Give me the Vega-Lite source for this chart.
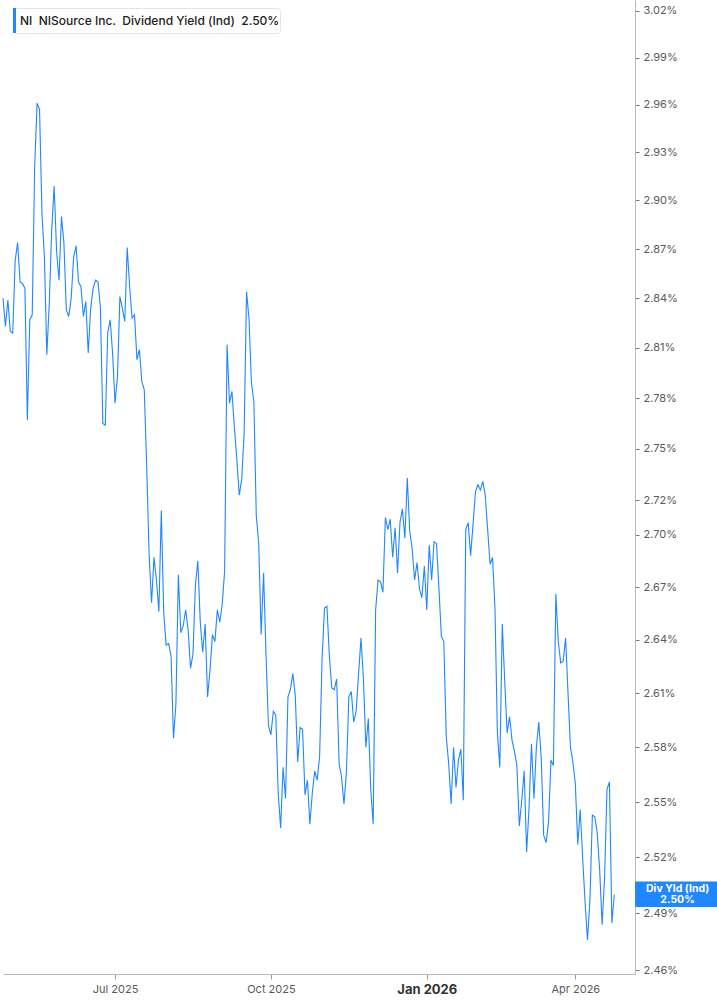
{
  "$schema": "https://vega.github.io/schema/vega-lite/v6.json",
  "width": 632,
  "height": 974,
  "padding": 0,
  "background": "white",
  "config": {
    "view": {"stroke": null},
    "font": "Inter",
    "axis": {"grid": false, "title": null}
  },
  "data": {
    "values": [
      {"date": "2025-04-24", "y": 2.840}, {"date": "2025-04-25", "y": 2.823}, {"date": "2025-04-28", "y": 2.839}, {"date": "2025-04-29", "y": 2.820}, {"date": "2025-04-30", "y": 2.819},
      {"date": "2025-05-01", "y": 2.863}, {"date": "2025-05-02", "y": 2.874}, {"date": "2025-05-05", "y": 2.850}, {"date": "2025-05-06", "y": 2.849}, {"date": "2025-05-07", "y": 2.846},
      {"date": "2025-05-08", "y": 2.767}, {"date": "2025-05-09", "y": 2.827}, {"date": "2025-05-12", "y": 2.830}, {"date": "2025-05-13", "y": 2.921}, {"date": "2025-05-14", "y": 2.961},
      {"date": "2025-05-15", "y": 2.957}, {"date": "2025-05-16", "y": 2.892}, {"date": "2025-05-19", "y": 2.865}, {"date": "2025-05-20", "y": 2.806}, {"date": "2025-05-21", "y": 2.837},
      {"date": "2025-05-22", "y": 2.882}, {"date": "2025-05-23", "y": 2.909}, {"date": "2025-05-27", "y": 2.869}, {"date": "2025-05-28", "y": 2.851}, {"date": "2025-05-29", "y": 2.890},
      {"date": "2025-05-30", "y": 2.874}, {"date": "2025-06-02", "y": 2.833}, {"date": "2025-06-03", "y": 2.829}, {"date": "2025-06-04", "y": 2.840}, {"date": "2025-06-05", "y": 2.865},
      {"date": "2025-06-06", "y": 2.872}, {"date": "2025-06-09", "y": 2.850}, {"date": "2025-06-10", "y": 2.847}, {"date": "2025-06-11", "y": 2.829}, {"date": "2025-06-12", "y": 2.838},
      {"date": "2025-06-13", "y": 2.807}, {"date": "2025-06-16", "y": 2.834}, {"date": "2025-06-17", "y": 2.846}, {"date": "2025-06-18", "y": 2.851}, {"date": "2025-06-20", "y": 2.850},
      {"date": "2025-06-23", "y": 2.834}, {"date": "2025-06-24", "y": 2.765}, {"date": "2025-06-25", "y": 2.764}, {"date": "2025-06-26", "y": 2.819}, {"date": "2025-06-27", "y": 2.827},
      {"date": "2025-06-30", "y": 2.807}, {"date": "2025-07-01", "y": 2.777}, {"date": "2025-07-02", "y": 2.793}, {"date": "2025-07-03", "y": 2.841}, {"date": "2025-07-07", "y": 2.834},
      {"date": "2025-07-08", "y": 2.826}, {"date": "2025-07-09", "y": 2.871}, {"date": "2025-07-10", "y": 2.847}, {"date": "2025-07-11", "y": 2.828}, {"date": "2025-07-14", "y": 2.830},
      {"date": "2025-07-15", "y": 2.803}, {"date": "2025-07-16", "y": 2.809}, {"date": "2025-07-17", "y": 2.790}, {"date": "2025-07-18", "y": 2.785}, {"date": "2025-07-21", "y": 2.740},
      {"date": "2025-07-22", "y": 2.688}, {"date": "2025-07-23", "y": 2.661}, {"date": "2025-07-24", "y": 2.687}, {"date": "2025-07-25", "y": 2.674}, {"date": "2025-07-28", "y": 2.656},
      {"date": "2025-07-29", "y": 2.714}, {"date": "2025-07-30", "y": 2.655}, {"date": "2025-07-31", "y": 2.637}, {"date": "2025-08-01", "y": 2.638}, {"date": "2025-08-04", "y": 2.631},
      {"date": "2025-08-05", "y": 2.585}, {"date": "2025-08-06", "y": 2.604}, {"date": "2025-08-07", "y": 2.677}, {"date": "2025-08-08", "y": 2.644}, {"date": "2025-08-11", "y": 2.648},
      {"date": "2025-08-12", "y": 2.657}, {"date": "2025-08-13", "y": 2.646}, {"date": "2025-08-14", "y": 2.624}, {"date": "2025-08-15", "y": 2.632}, {"date": "2025-08-18", "y": 2.671},
      {"date": "2025-08-19", "y": 2.685}, {"date": "2025-08-20", "y": 2.650}, {"date": "2025-08-21", "y": 2.633}, {"date": "2025-08-22", "y": 2.649}, {"date": "2025-08-25", "y": 2.608},
      {"date": "2025-08-26", "y": 2.623}, {"date": "2025-08-27", "y": 2.643}, {"date": "2025-08-28", "y": 2.639}, {"date": "2025-08-29", "y": 2.657}, {"date": "2025-09-02", "y": 2.650},
      {"date": "2025-09-03", "y": 2.660}, {"date": "2025-09-04", "y": 2.679}, {"date": "2025-09-05", "y": 2.812}, {"date": "2025-09-08", "y": 2.777}, {"date": "2025-09-09", "y": 2.784},
      {"date": "2025-09-10", "y": 2.763}, {"date": "2025-09-11", "y": 2.744}, {"date": "2025-09-12", "y": 2.723}, {"date": "2025-09-15", "y": 2.732}, {"date": "2025-09-16", "y": 2.759},
      {"date": "2025-09-17", "y": 2.844}, {"date": "2025-09-18", "y": 2.828}, {"date": "2025-09-19", "y": 2.789}, {"date": "2025-09-22", "y": 2.778}, {"date": "2025-09-23", "y": 2.711},
      {"date": "2025-09-24", "y": 2.695}, {"date": "2025-09-25", "y": 2.643}, {"date": "2025-09-26", "y": 2.678}, {"date": "2025-09-29", "y": 2.631}, {"date": "2025-09-30", "y": 2.592},
      {"date": "2025-10-01", "y": 2.587}, {"date": "2025-10-02", "y": 2.600}, {"date": "2025-10-03", "y": 2.598}, {"date": "2025-10-06", "y": 2.555}, {"date": "2025-10-07", "y": 2.536},
      {"date": "2025-10-08", "y": 2.569}, {"date": "2025-10-09", "y": 2.552}, {"date": "2025-10-10", "y": 2.608}, {"date": "2025-10-13", "y": 2.612}, {"date": "2025-10-14", "y": 2.621},
      {"date": "2025-10-15", "y": 2.609}, {"date": "2025-10-16", "y": 2.572}, {"date": "2025-10-17", "y": 2.591}, {"date": "2025-10-20", "y": 2.590}, {"date": "2025-10-21", "y": 2.554},
      {"date": "2025-10-22", "y": 2.562}, {"date": "2025-10-23", "y": 2.538}, {"date": "2025-10-24", "y": 2.555}, {"date": "2025-10-27", "y": 2.567}, {"date": "2025-10-28", "y": 2.562},
      {"date": "2025-10-29", "y": 2.575}, {"date": "2025-10-30", "y": 2.629}, {"date": "2025-10-31", "y": 2.658}, {"date": "2025-11-03", "y": 2.659}, {"date": "2025-11-04", "y": 2.631},
      {"date": "2025-11-05", "y": 2.613}, {"date": "2025-11-06", "y": 2.612}, {"date": "2025-11-07", "y": 2.618}, {"date": "2025-11-10", "y": 2.571}, {"date": "2025-11-11", "y": 2.564},
      {"date": "2025-11-12", "y": 2.549}, {"date": "2025-11-13", "y": 2.566}, {"date": "2025-11-14", "y": 2.608}, {"date": "2025-11-17", "y": 2.611}, {"date": "2025-11-18", "y": 2.594},
      {"date": "2025-11-19", "y": 2.600}, {"date": "2025-11-20", "y": 2.621}, {"date": "2025-11-21", "y": 2.641}, {"date": "2025-11-24", "y": 2.618}, {"date": "2025-11-25", "y": 2.580},
      {"date": "2025-11-26", "y": 2.596}, {"date": "2025-11-28", "y": 2.557}, {"date": "2025-12-01", "y": 2.538}, {"date": "2025-12-02", "y": 2.657}, {"date": "2025-12-03", "y": 2.674},
      {"date": "2025-12-04", "y": 2.673}, {"date": "2025-12-05", "y": 2.667}, {"date": "2025-12-08", "y": 2.710}, {"date": "2025-12-09", "y": 2.703}, {"date": "2025-12-10", "y": 2.709},
      {"date": "2025-12-11", "y": 2.687}, {"date": "2025-12-12", "y": 2.704}, {"date": "2025-12-15", "y": 2.678}, {"date": "2025-12-16", "y": 2.707}, {"date": "2025-12-17", "y": 2.715},
      {"date": "2025-12-18", "y": 2.698}, {"date": "2025-12-19", "y": 2.733}, {"date": "2025-12-22", "y": 2.702}, {"date": "2025-12-23", "y": 2.692}, {"date": "2025-12-24", "y": 2.674},
      {"date": "2025-12-26", "y": 2.684}, {"date": "2025-12-29", "y": 2.669}, {"date": "2025-12-30", "y": 2.664}, {"date": "2025-12-31", "y": 2.682}, {"date": "2026-01-02", "y": 2.657},
      {"date": "2026-01-05", "y": 2.694}, {"date": "2026-01-06", "y": 2.674}, {"date": "2026-01-07", "y": 2.696}, {"date": "2026-01-08", "y": 2.695}, {"date": "2026-01-09", "y": 2.669},
      {"date": "2026-01-12", "y": 2.642}, {"date": "2026-01-13", "y": 2.639}, {"date": "2026-01-14", "y": 2.586}, {"date": "2026-01-15", "y": 2.571}, {"date": "2026-01-16", "y": 2.549},
      {"date": "2026-01-20", "y": 2.580}, {"date": "2026-01-21", "y": 2.558}, {"date": "2026-01-22", "y": 2.573}, {"date": "2026-01-23", "y": 2.579}, {"date": "2026-01-26", "y": 2.551},
      {"date": "2026-01-27", "y": 2.703}, {"date": "2026-01-28", "y": 2.707}, {"date": "2026-01-29", "y": 2.688}, {"date": "2026-01-30", "y": 2.706}, {"date": "2026-02-02", "y": 2.725},
      {"date": "2026-02-03", "y": 2.729}, {"date": "2026-02-04", "y": 2.726}, {"date": "2026-02-05", "y": 2.731}, {"date": "2026-02-06", "y": 2.723}, {"date": "2026-02-09", "y": 2.703},
      {"date": "2026-02-10", "y": 2.683}, {"date": "2026-02-11", "y": 2.687}, {"date": "2026-02-12", "y": 2.658}, {"date": "2026-02-13", "y": 2.588}, {"date": "2026-02-17", "y": 2.569},
      {"date": "2026-02-18", "y": 2.649}, {"date": "2026-02-19", "y": 2.617}, {"date": "2026-02-20", "y": 2.588}, {"date": "2026-02-23", "y": 2.597}, {"date": "2026-02-24", "y": 2.584},
      {"date": "2026-02-25", "y": 2.578}, {"date": "2026-02-26", "y": 2.570}, {"date": "2026-02-27", "y": 2.537}, {"date": "2026-03-02", "y": 2.551}, {"date": "2026-03-03", "y": 2.567},
      {"date": "2026-03-04", "y": 2.523}, {"date": "2026-03-05", "y": 2.547}, {"date": "2026-03-06", "y": 2.582}, {"date": "2026-03-09", "y": 2.552}, {"date": "2026-03-10", "y": 2.580},
      {"date": "2026-03-11", "y": 2.594}, {"date": "2026-03-12", "y": 2.574}, {"date": "2026-03-13", "y": 2.532}, {"date": "2026-03-16", "y": 2.528}, {"date": "2026-03-17", "y": 2.539},
      {"date": "2026-03-18", "y": 2.573}, {"date": "2026-03-19", "y": 2.570}, {"date": "2026-03-20", "y": 2.666}, {"date": "2026-03-23", "y": 2.639}, {"date": "2026-03-24", "y": 2.627},
      {"date": "2026-03-25", "y": 2.628}, {"date": "2026-03-26", "y": 2.641}, {"date": "2026-03-27", "y": 2.610}, {"date": "2026-03-30", "y": 2.580}, {"date": "2026-03-31", "y": 2.572},
      {"date": "2026-04-01", "y": 2.560}, {"date": "2026-04-02", "y": 2.527}, {"date": "2026-04-06", "y": 2.546}, {"date": "2026-04-07", "y": 2.520}, {"date": "2026-04-08", "y": 2.496},
      {"date": "2026-04-09", "y": 2.476}, {"date": "2026-04-10", "y": 2.497}, {"date": "2026-04-13", "y": 2.543}, {"date": "2026-04-14", "y": 2.542}, {"date": "2026-04-15", "y": 2.533},
      {"date": "2026-04-16", "y": 2.513}, {"date": "2026-04-17", "y": 2.484}, {"date": "2026-04-20", "y": 2.509}, {"date": "2026-04-21", "y": 2.557}, {"date": "2026-04-22", "y": 2.561},
      {"date": "2026-04-23", "y": 2.485}, {"date": "2026-04-24", "y": 2.500}
    ]
  },
  "transform": [
    {"window": [{"op": "row_number", "as": "i"}], "sort": [{"field": "date", "order": "ascending"}]}
  ],
  "encoding": {
    "x": {
      "field": "i",
      "type": "quantitative",
      "scale": {"domain": [1, 260.5], "nice": false, "zero": false},
      "axis": {
        "values": [47, 111, 175, 236],
        "labelExpr": "datum.value == 47 ? 'Jul 2025' : datum.value == 111 ? 'Oct 2025' : datum.value == 175 ? 'Jan 2026' : 'Apr 2026'",
        "domainColor": "#b8b8b8",
        "tickColor": "#999999",
        "tickSize": 5,
        "labelPadding": 4,
        "labelFont": "Inter",
        "labelFontSize": {"expr": "datum.value == 175 ? 13 : 11"},
        "labelFontWeight": {"expr": "datum.value == 175 ? 'bold' : 'normal'"},
        "labelColor": {"expr": "datum.value == 175 ? '#333333' : '#5a5a5a'"}
      }
    },
    "y": {
      "field": "y",
      "type": "quantitative",
      "scale": {"type": "log", "domain": [2.458, 3.027], "nice": false, "zero": false},
      "axis": {
        "orient": "right",
        "values": [2.46, 2.49, 2.52, 2.55, 2.58, 2.61, 2.64, 2.67, 2.70, 2.72, 2.75, 2.78, 2.81, 2.84, 2.87, 2.90, 2.93, 2.96, 2.99, 3.02],
        "labelExpr": "format(datum.value, '.2f') + '%'",
        "domainColor": "#b8b8b8",
        "tickColor": "#777777",
        "tickSize": 4,
        "labelPadding": 4,
        "labelFont": "Inter",
        "labelFontSize": 11,
        "labelColor": "#5a5a5a"
      }
    }
  },
  "layer": [
    {
      "mark": {"type": "line", "strokeWidth": 1.1, "interpolate": "linear"},
      "encoding": {
        "color": {
          "datum": "NI\u00a0\u00a0NISource Inc.\u00a0\u00a0Dividend Yield (Ind)\u00a0\u00a02.50%\u00a0\u00a0\u00a0",
          "type": "nominal",
          "scale": {"range": ["#1f87ff"]},
          "legend": {
            "orient": "none",
            "legendX": 10,
            "legendY": 8,
            "title": null,
            "padding": 0,
            "fillColor": "#ffffff",
            "strokeColor": "#e4e4e4",
            "cornerRadius": 3,
            "symbolType": "M-1,-1H-0.76V1H-1Z",
            "symbolSize": 625,
            "symbolStrokeWidth": 0,
            "labelOffset": -18,
            "labelFont": "Inter",
            "labelFontSize": 12,
            "labelFontWeight": 500,
            "labelColor": "#222222",
            "labelLimit": 400,
            "encode": {
              "symbols": {"update": {"fill": {"value": "#1f87ff"}, "stroke": {"value": "transparent"}}}
            }
          }
        }
      }
    },
    {
      "transform": [
        {"joinaggregate": [{"op": "max", "field": "i", "as": "imax"}]},
        {"filter": "datum.i == datum.imax"}
      ],
      "mark": {
        "type": "point",
        "shape": "M-1,-0.3H1V0.3H-1Z",
        "size": 7225,
        "filled": true,
        "opacity": 1,
        "color": "#1f87ff",
        "strokeWidth": 0,
        "xOffset": 63.3,
        "yOffset": -0.5
      }
    },
    {
      "transform": [
        {"joinaggregate": [{"op": "max", "field": "i", "as": "imax"}]},
        {"filter": "datum.i == datum.imax"}
      ],
      "mark": {
        "type": "text",
        "color": "#ffffff",
        "font": "Inter",
        "fontWeight": "bold",
        "fontSize": 10.5,
        "lineHeight": 11.5,
        "align": "center",
        "baseline": "middle",
        "xOffset": 63.3,
        "dy": -6
      },
      "encoding": {"text": {"value": ["Div Yld (Ind)", "2.50%"]}}
    }
  ]
}
